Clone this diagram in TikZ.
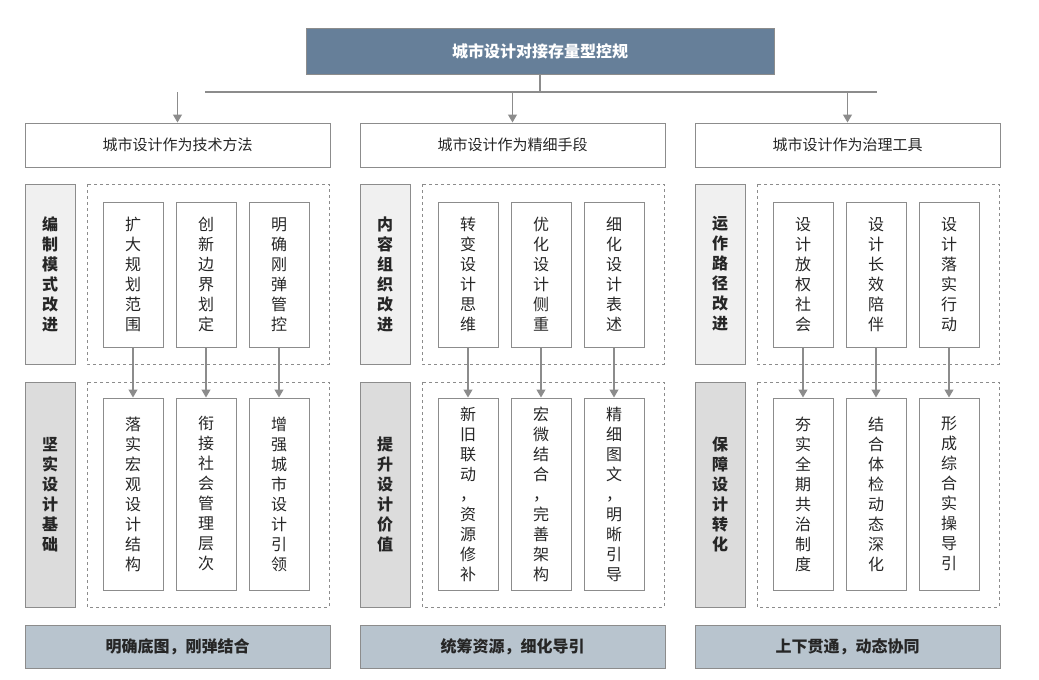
\documentclass[tikz,border=0pt]{standalone}
\usepackage{fontspec}
\setmainfont{Noto Sans CJK SC}
\usetikzlibrary{arrows.meta}
\definecolor{topc}{HTML}{667F99}
\definecolor{barc}{HTML}{B8C4CE}
\definecolor{lightg}{HTML}{F0F0F0}
\definecolor{darkg}{HTML}{DCDCDC}
\definecolor{linec}{HTML}{8C8C8C}
\tikzset{
  bx/.style={draw=linec,line width=1pt,inner sep=0pt,align=center},
  vt/.style={font=\fontsize{16}{20}\selectfont,text=black!85},
  vtb/.style={font=\fontsize{16}{20}\selectfont\bfseries,text=black!85},
  arr/.style={draw=linec,line width=1.2pt,-{Triangle[length=8pt,width=9pt]}},
  dsh/.style={draw=linec,dashed,line width=1pt}
}
\newcommand{\bxat}[6]{\node[bx,#6,minimum width=#3-#1,minimum height=#4-#2] (#5) at ({(#1+#3)/2},{(#2+#4)/2})}
\begin{document}
\begin{tikzpicture}[x=1pt,y=-1pt]
\useasboundingbox (0,0) rectangle (1039,680);
\bxat{306}{28}{774}{74}{top}{fill=topc,text=white,font=\fontsize{16}{20}\selectfont\bfseries}{城市设计对接存量型控规};
\coordinate (j) at (540,92);
\draw[draw=linec,line width=1.2pt] (top.south) -- (j);
\draw[draw=linec,line width=1.2pt] (205,92) -- (877,92);
\foreach \i/\h/\la/\lb/\bt/\ua/\ub/\uc/\da/\db/\dc in {
 0/城市设计作为技术方法/编\\制\\模\\式\\改\\进/坚\\实\\设\\计\\基\\础/明确底图，刚弹结合/扩\\大\\规\\划\\范\\围/创\\新\\边\\界\\划\\定/明\\确\\刚\\弹\\管\\控/落\\实\\宏\\观\\设\\计\\结\\构/衔\\接\\社\\会\\管\\理\\层\\次/增\\强\\城\\市\\设\\计\\引\\领,
 1/城市设计作为精细手段/内\\容\\组\\织\\改\\进/提\\升\\设\\计\\价\\值/统筹资源，细化导引/转\\变\\设\\计\\思\\维/优\\化\\设\\计\\侧\\重/细\\化\\设\\计\\表\\述/新\\旧\\联\\动\\，\\资\\源\\修\\补/宏\\微\\结\\合\\，\\完\\善\\架\\构/精\\细\\图\\文\\，\\明\\晰\\引\\导,
 2/城市设计作为治理工具/运\\作\\路\\径\\改\\进/保\\障\\设\\计\\转\\化/上下贯通，动态协同/设\\计\\放\\权\\社\\会/设\\计\\长\\效\\陪\\伴/设\\计\\落\\实\\行\\动/夯\\实\\全\\期\\共\\治\\制\\度/结\\合\\体\\检\\动\\态\\深\\化/形\\成\\综\\合\\实\\操\\导\\引}{
 \pgfmathsetmacro{\o}{335*\i}
 \begin{scope}[xshift=\o]
 \bxat{25}{123}{330}{167}{h\i}{font=\fontsize{15}{18}\selectfont,text=black!85}{\h};
 \draw[arr] (h\i.north|-j) -- (h\i.north);
 \bxat{25}{184}{75}{364}{la\i}{fill=lightg,vtb}{\la};
 \bxat{25}{382}{75}{607}{lb\i}{fill=darkg,vtb}{\lb};
 \draw[dsh] (87,184) rectangle (329,364);
 \draw[dsh] (87,382) rectangle (329,607);
 \bxat{103}{202}{163}{347}{ua\i}{vt}{\ua};
 \bxat{176}{202}{236}{347}{ub\i}{vt}{\ub};
 \bxat{249}{202}{309}{347}{uc\i}{vt}{\uc};
 \bxat{103}{398}{163}{590}{da\i}{vt}{\da};
 \bxat{176}{398}{236}{590}{db\i}{vt}{\db};
 \bxat{249}{398}{309}{590}{dc\i}{vt}{\dc};
 \draw[arr] (ua\i) -- (da\i);
 \draw[arr] (ub\i) -- (db\i);
 \draw[arr] (uc\i) -- (dc\i);
 \bxat{25}{625}{330}{668}{bt\i}{fill=barc,font=\fontsize{16}{20}\selectfont\bfseries,text=black!85}{\bt};
 \end{scope}
}
\end{tikzpicture}
\end{document}
